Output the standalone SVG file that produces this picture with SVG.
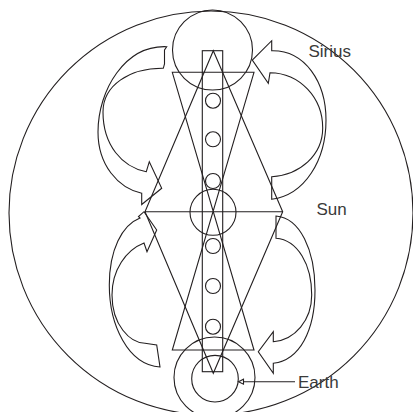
<svg xmlns="http://www.w3.org/2000/svg" width="413" height="412" viewBox="0 0 413 412">
<style>
.s{fill:none;stroke:#231f20;stroke-width:1.1;stroke-linejoin:miter}
.t{font-family:"Liberation Sans",Arial,sans-serif;font-size:17px;fill:#3a3a3a}
</style>
<rect width="413" height="412" fill="#fff"/>
<g id="cosmos"><circle class="s" cx="211" cy="213" r="202"/></g>
<g id="sirius"><circle class="s" cx="212.5" cy="50" r="40"/><text class="t" x="308.5" y="57">Sirius</text></g>
<g id="sun"><circle class="s" cx="213" cy="212.3" r="23"/><text class="t" x="316.5" y="215">Sun</text></g>
<g id="earth"><circle class="s" cx="214.5" cy="377.5" r="40.5"/><circle class="s" cx="215" cy="378.7" r="23.3"/><text class="t" x="298" y="388">Earth</text></g>
<g id="column">
<rect class="s" x="202.3" y="50.7" width="20.4" height="321"/>
<circle class="s" cx="213" cy="100.7" r="7.5"/>
<circle class="s" cx="213" cy="139.3" r="7.5"/>
<circle class="s" cx="213" cy="181" r="7.5"/>
<circle class="s" cx="213" cy="246" r="7.5"/>
<circle class="s" cx="213" cy="286" r="7.5"/>
<circle class="s" cx="213" cy="326.7" r="7.5"/>
</g>
<g id="hourglass"><path class="s" d="M172.3,72.3 L254,72.3 L172.3,350 L254,350 Z"/></g>
<g id="diamond"><path class="s" d="M213.3,50.7 L282.7,211.7 L213.3,373.3 L145,211.7 Z M145,211.7 L282.7,211.7"/></g>
<g id="connectors">
<path id="arrow-lu" class="s" d="M166.7,46.7 C125,45 98,90 98,132 C98,165 118,188 141.7,193.3 L141.7,204.5 L161.7,188.3 L149.3,161.7 L146.3,171.7 C122,167 103,145 103,112 C103,85 130,68 163.3,68.3 L164.5,64 L164.5,50 Z"/>
<path id="arrow-ru" class="s" d="M271.7,40.7 L271.7,50.7 C305,50 326,82 326,120 C326,160 305,195 271.7,199.3 L271.7,176.7 C300,175 322.7,155 322.7,128 C322.7,98 300,73 270,72.7 L268.3,83.3 L252.3,60 Z"/>
<path id="arrow-ll" class="s" d="M160,367 C128,365 109.3,325 109.3,285 C109.3,250 122,225 140,218 L138.5,216.5 L144,211.7 L156.7,230 L147,251.7 L144,243 C126,250 112,270 112,295 C112,325 130,343 145,343.3 L156.7,345 Z"/>
<path id="arrow-rl" class="s" d="M276,216 C300,218 315,250 315,290 C315,330 300,360 273.3,363.3 L273.3,373.3 L258.3,351.7 L273.3,331.7 L273.3,341.7 C295,340 311.7,320 311.7,295 C311.7,265 298,240 276,238.3 Z"/>
<g id="earth-pointer">
<line class="s" x1="295" y1="381.7" x2="243.5" y2="381.7"/>
<path class="s" d="M238.5,381.7 L243.5,379.2 L243.5,384.2 Z"/>
</g>
</g>
</svg>
